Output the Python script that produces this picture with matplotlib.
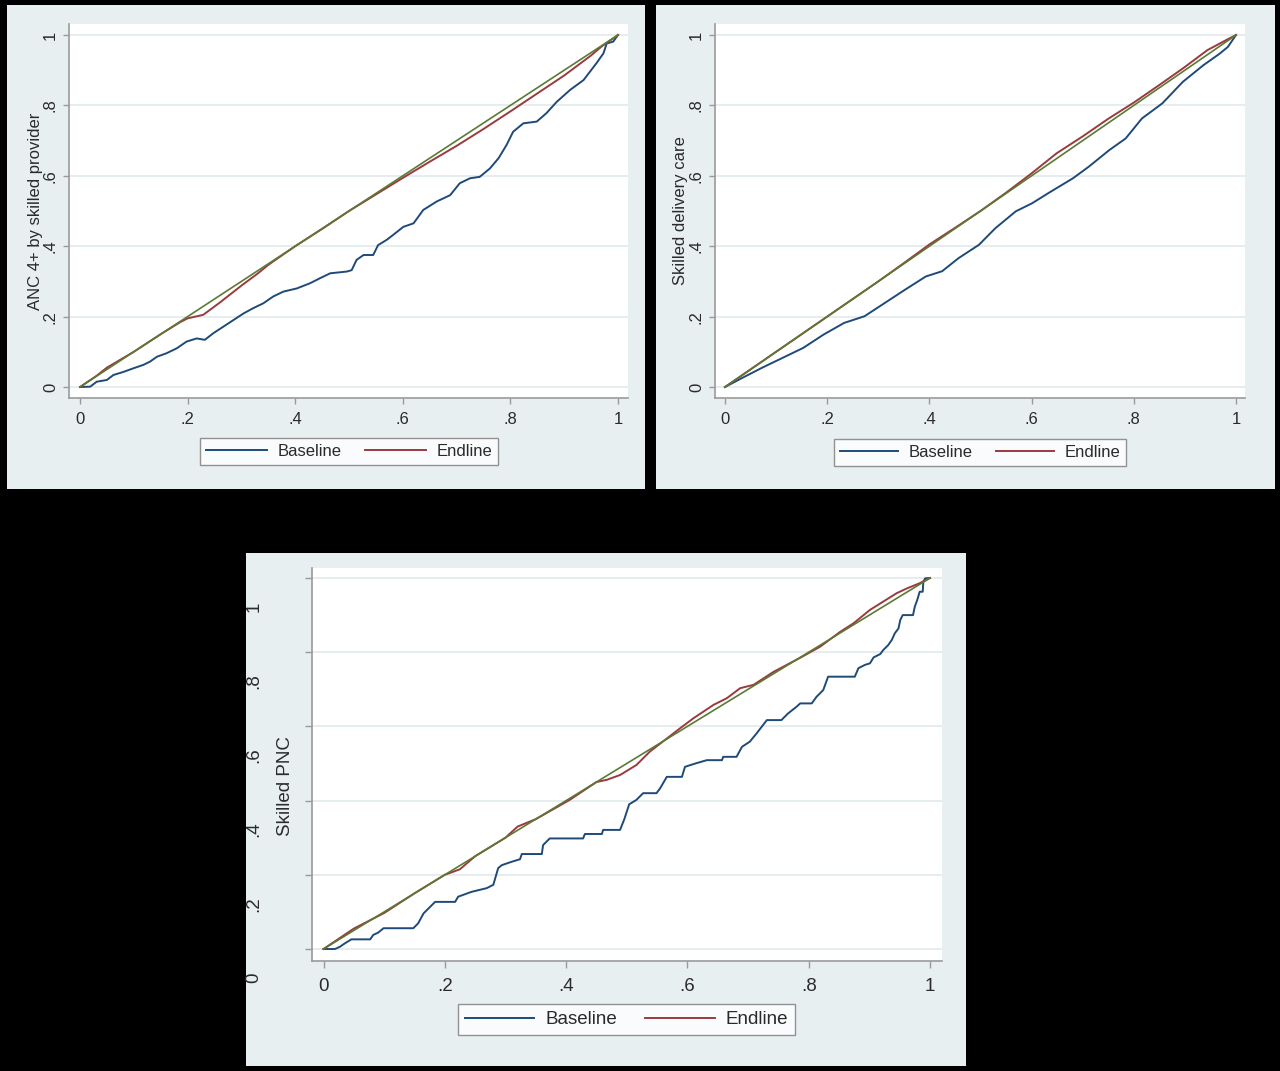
import matplotlib
matplotlib.use("Agg")
import matplotlib.pyplot as plt
from matplotlib.patches import Rectangle
import matplotlib.transforms as mtransforms

plt.rcParams['font.family'] = ['Liberation Sans', 'DejaVu Sans']

# ---------------- data ----------------
ticks = [0, 0.2, 0.4, 0.6, 0.8, 1.0]
tick_labels = ["0", ".2", ".4", ".6", ".8", "1"]
series_names = ["Baseline", "Endline"]
equality_x = [0, 1]
equality_y = [0, 1]

# Panel 1: ANC 4+ by skilled provider
anc_base_x = [0, 0.019, 0.031, 0.05, 0.062, 0.081, 0.099, 0.118, 0.13, 0.143, 0.161, 0.18,
              0.198, 0.217, 0.232, 0.248, 0.266, 0.285, 0.304, 0.322, 0.341, 0.359, 0.378,
              0.403, 0.428, 0.446, 0.465, 0.496, 0.505, 0.514, 0.527, 0.545, 0.554, 0.57,
              0.582, 0.601, 0.62, 0.638, 0.663, 0.688, 0.706, 0.725, 0.743, 0.762, 0.778,
              0.793, 0.805, 0.824, 0.849, 0.867, 0.886, 0.911, 0.936, 0.96, 0.973, 0.979,
              0.991, 1.0]
anc_base_y = [0, 0.001, 0.015, 0.02, 0.034, 0.043, 0.053, 0.063, 0.072, 0.086, 0.096, 0.11,
              0.129, 0.138, 0.134, 0.153, 0.171, 0.19, 0.209, 0.224, 0.238, 0.257, 0.271,
              0.28, 0.295, 0.309, 0.323, 0.328, 0.332, 0.361, 0.375, 0.375, 0.403, 0.418,
              0.432, 0.455, 0.465, 0.503, 0.527, 0.545, 0.579, 0.593, 0.597, 0.621, 0.65,
              0.688, 0.725, 0.749, 0.754, 0.778, 0.81, 0.844, 0.872, 0.92, 0.948, 0.976,
              0.981, 1.0]
anc_end_x = [0, 0.031, 0.05, 0.1, 0.15, 0.186, 0.2, 0.229, 0.26, 0.3, 0.33, 0.35, 0.4, 0.45,
             0.5, 0.55, 0.6, 0.65, 0.7, 0.75, 0.8, 0.85, 0.9, 0.95, 0.97, 1.0]
anc_end_y = [0, 0.032, 0.055, 0.1, 0.15, 0.184, 0.195, 0.205, 0.24, 0.288, 0.322, 0.347,
             0.4, 0.449, 0.5, 0.547, 0.594, 0.64, 0.685, 0.733, 0.783, 0.834, 0.885,
             0.942, 0.968, 1.0]

# Panel 2: Skilled delivery care
sdc_base_x = [0, 0.034, 0.073, 0.113, 0.153, 0.193, 0.233, 0.273, 0.313, 0.353, 0.393, 0.425,
              0.457, 0.497, 0.529, 0.569, 0.601, 0.633, 0.681, 0.712, 0.752, 0.784, 0.816,
              0.856, 0.896, 0.936, 0.968, 0.984, 1.0]
sdc_base_y = [0, 0.026, 0.055, 0.083, 0.111, 0.149, 0.182, 0.201, 0.239, 0.277, 0.314, 0.329,
              0.366, 0.404, 0.451, 0.499, 0.522, 0.551, 0.593, 0.626, 0.673, 0.706, 0.763,
              0.806, 0.867, 0.914, 0.947, 0.966, 1.0]
sdc_end_x = [0, 0.05, 0.1, 0.2, 0.3, 0.35, 0.4, 0.45, 0.5, 0.55, 0.6, 0.649, 0.7, 0.75, 0.8,
             0.85, 0.896, 0.944, 0.98, 1.0]
sdc_end_y = [0, 0.05, 0.1, 0.2, 0.3, 0.352, 0.405, 0.452, 0.5, 0.552, 0.607, 0.664, 0.712,
             0.762, 0.808, 0.858, 0.905, 0.957, 0.985, 1.0]

# Panel 3: Skilled PNC
pnc_base_x = [0, 0.019, 0.027, 0.035, 0.046, 0.077, 0.082, 0.09, 0.099, 0.148, 0.156, 0.165,
              0.184, 0.217, 0.222, 0.244, 0.269, 0.28, 0.288, 0.294, 0.31, 0.324, 0.327,
              0.36, 0.362, 0.373, 0.428, 0.431, 0.459, 0.461, 0.489, 0.496, 0.504, 0.516,
              0.527, 0.549, 0.555, 0.566, 0.591, 0.596, 0.613, 0.632, 0.657, 0.659, 0.681,
              0.69, 0.703, 0.714, 0.731, 0.755, 0.766, 0.78, 0.786, 0.805, 0.813, 0.824,
              0.832, 0.876, 0.882, 0.893, 0.901, 0.907, 0.918, 0.923, 0.931, 0.937, 0.942,
              0.948, 0.951, 0.955, 0.972, 0.975, 0.979, 0.983, 0.988, 0.989, 0.992, 1.0]
pnc_base_y = [0, 0, 0.006, 0.015, 0.026, 0.026, 0.038, 0.044, 0.056, 0.056, 0.069, 0.096,
              0.127, 0.127, 0.141, 0.154, 0.164, 0.173, 0.218, 0.226, 0.235, 0.242, 0.256,
              0.256, 0.28, 0.298, 0.298, 0.31, 0.31, 0.321, 0.321, 0.35, 0.39, 0.402,
              0.42, 0.42, 0.433, 0.464, 0.464, 0.491, 0.5, 0.509, 0.509, 0.518, 0.518,
              0.545, 0.559, 0.581, 0.617, 0.617, 0.635, 0.653, 0.662, 0.662, 0.68, 0.698,
              0.734, 0.734, 0.757, 0.766, 0.77, 0.786, 0.795, 0.806, 0.819, 0.833, 0.851,
              0.864, 0.887, 0.9, 0.9, 0.923, 0.941, 0.963, 0.963, 0.99, 0.999, 1.0]
pnc_end_x = [0, 0.05, 0.1, 0.15, 0.2, 0.225, 0.25, 0.3, 0.32, 0.35, 0.406, 0.45, 0.467,
             0.489, 0.516, 0.538, 0.588, 0.61, 0.643, 0.665, 0.687, 0.709, 0.742, 0.786,
             0.819, 0.852, 0.874, 0.901, 0.945, 0.962, 0.983, 1.0]
pnc_end_y = [0, 0.055, 0.097, 0.15, 0.2, 0.215, 0.25, 0.3, 0.33, 0.35, 0.402, 0.45, 0.456,
             0.469, 0.496, 0.532, 0.595, 0.622, 0.658, 0.676, 0.703, 0.712, 0.747, 0.785,
             0.815, 0.855, 0.878, 0.914, 0.959, 0.972, 0.986, 1.0]

# ---------------- style ----------------
W, H = 1280, 1071
BG = "#e8eff1"
BLUE = "#1f4a78"
RED = "#9a3a3f"
GREEN = "#5a7a34"
AXC = "#9a9a9a"
GRID = "#e4ecee"
TXT = "#2a2a2a"

fig = plt.figure(figsize=(W / 100, H / 100), dpi=100, facecolor="black")


def fig_rect(x0, y0, x1, y1):
    return [x0 / W, 1 - y1 / H, (x1 - x0) / W, (y1 - y0) / H]


def add_panel(x0, y0, x1, y1):
    r = fig_rect(x0, y0, x1, y1)
    fig.add_artist(Rectangle((r[0], r[1]), r[2], r[3], transform=fig.transFigure,
                             facecolor=BG, edgecolor="none", zorder=0))


def make_axes(box, x0px, x1px, y0px, y1px):
    left, top, right, bottom = box
    ax = fig.add_axes(fig_rect(left, top, right, bottom))
    ux = (x1px - x0px)
    uy = (y0px - y1px)
    ax.set_xlim(-(x0px - left) / ux, 1 + (right - x1px) / ux)
    ax.set_ylim(-(bottom - y0px) / uy, 1 + (y1px - top) / uy)
    ax.set_facecolor("white")
    for s in ["top", "right"]:
        ax.spines[s].set_visible(False)
    for s in ["left", "bottom"]:
        ax.spines[s].set_color(AXC)
        ax.spines[s].set_linewidth(1.2)
    ax.set_xticks(ticks)
    ax.set_yticks(ticks)
    ax.grid(axis="y", color=GRID, linewidth=1.3)
    ax.set_axisbelow(True)
    return ax


def draw(ax, bx, by, ex, ey):
    l1, = ax.plot(bx, by, color=BLUE, lw=1.4, label=series_names[0], zorder=3)
    l2, = ax.plot(ex, ey, color=RED, lw=1.4, label=series_names[1], zorder=3)
    ax.plot(equality_x, equality_y, color=GREEN, lw=1.2, zorder=4)
    return l1, l2


def legend(handles, cx, cy, fs, hl, cs):
    leg = fig.legend(handles, series_names, loc="center",
                     bbox_to_anchor=(cx / W, 1 - cy / H), ncol=2, fontsize=fs,
                     frameon=True, fancybox=False, edgecolor="#7a7a7a",
                     handlelength=hl, columnspacing=cs, handletextpad=0.6,
                     borderpad=0.35, labelcolor=TXT)
    leg.get_frame().set_linewidth(1.0)
    leg.get_frame().set_facecolor("white")


# Panels backgrounds
add_panel(7, 5, 645, 489)
add_panel(656, 5, 1275, 489)
add_panel(246, 553, 966, 1066)

# ---- Panel 1 ----
ax1 = make_axes((69, 24, 628, 398), 80, 618, 387, 35)
h = draw(ax1, anc_base_x, anc_base_y, anc_end_x, anc_end_y)
ax1.set_xticklabels(tick_labels, fontsize=12, color=TXT)
ax1.set_yticklabels(tick_labels, fontsize=12, color=TXT, rotation=90, va="center")
ax1.tick_params(axis="both", length=4, width=1, color=AXC)
ax1.tick_params(axis="x", pad=6)
ax1.tick_params(axis="y", pad=4)
ax1.set_ylabel("ANC 4+ by skilled provider", fontsize=12, color=TXT, va="center")
ax1.yaxis.set_label_coords((36 - 69) / 559, 0.5)
legend(h, 349, 451.5, 12, 3.7, 1.4)

# ---- Panel 2 ----
ax2 = make_axes((715, 24, 1245, 398), 725, 1236, 387, 35)
h = draw(ax2, sdc_base_x, sdc_base_y, sdc_end_x, sdc_end_y)
ax2.set_xticklabels(tick_labels, fontsize=12, color=TXT)
ax2.set_yticklabels(tick_labels, fontsize=12, color=TXT, rotation=90, va="center")
ax2.tick_params(axis="both", length=4, width=1, color=AXC)
ax2.tick_params(axis="x", pad=6)
ax2.tick_params(axis="y", pad=4)
ax2.set_ylabel("Skilled delivery care", fontsize=12, color=TXT, va="center")
ax2.yaxis.set_label_coords((681 - 715) / 530, 0.5)
legend(h, 980, 452.5, 12, 3.5, 1.4)

# ---- Panel 3 ----
ax3 = make_axes((312, 568, 942, 961), 323.5, 930, 949, 578)
h = draw(ax3, pnc_base_x, pnc_base_y, pnc_end_x, pnc_end_y)
ax3.set_xticklabels(tick_labels, fontsize=13.5, color=TXT)
ax3.set_yticklabels([""] * len(ticks))
ax3.tick_params(axis="both", length=5, width=1, color=AXC)
ax3.tick_params(axis="x", pad=7)
# shifted y tick labels, as in the original figure
ytr = mtransforms.offset_copy(ax3.get_yaxis_transform(), fig=fig, x=0, y=-29, units="dots")
for v, lab in zip(ticks, tick_labels):
    ax3.text((254 - 312) / 630, v, lab, transform=ytr, rotation=90, ha="center",
             va="center", fontsize=13.5, color=TXT, clip_on=False)
ax3.set_ylabel("Skilled PNC", fontsize=13.5, color=TXT, va="center")
ax3.yaxis.set_label_coords((286 - 312) / 630, (961 - 786) / 393)
legend(h, 626.5, 1019.5, 13.5, 3.7, 1.5)

fig.savefig("out.png", dpi=100, facecolor="black")
